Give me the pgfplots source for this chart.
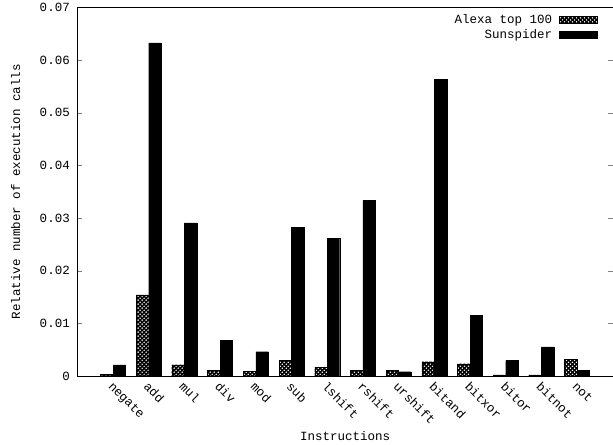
\documentclass[border=0pt]{standalone}
\usepackage{fontspec}
\setmainfont{Liberation Mono}
\usepackage{pgfplots}
\pgfplotsset{compat=1.18}
\usetikzlibrary{patterns}
\pgfdeclarepatternformonly{gpcross}{\pgfqpoint{-1pt}{-1pt}}{\pgfqpoint{5pt}{5pt}}{\pgfqpoint{4pt}{4pt}}{%
  \pgfsetlinewidth{1.3pt}%
  \pgfpathmoveto{\pgfqpoint{-1pt}{-1pt}}\pgfpathlineto{\pgfqpoint{5pt}{5pt}}%
  \pgfpathmoveto{\pgfqpoint{-1pt}{5pt}}\pgfpathlineto{\pgfqpoint{5pt}{-1pt}}%
  \pgfusepath{stroke}}
\pgfplotstableread{
x alexa sun
0  0.00025 0.0021
1  0.0154  0.0633
2  0.0021  0.0291
3  0.0011  0.0067
4  0.0009  0.0046
5  0.0030  0.0283
6  0.0016  0.0261
7  0.0011  0.0333
8  0.0010  0.0008
9  0.0027  0.0563
10 0.0023  0.0115
11 0.0002  0.0029
12 0.0002  0.0055
13 0.0032  0.0011
}\datatable
\begin{document}
\begin{tikzpicture}
\begin{axis}[
  scale only axis, width=535pt, height=368pt,
  xmin=-1, xmax=14, ymin=0, ymax=0.07,
  scaled y ticks=false,
  ybar=0pt, bar width=12.5pt,
  xtick={0,...,13},
  xticklabels={negate,add,mul,div,mod,sub,lshift,rshift,urshift,bitand,bitxor,bitor,bitnot,not},
  x tick style={draw=none},
  xticklabel style={rotate=-45, anchor=north west, inner sep=1pt, xshift=3pt, yshift=-2pt},
  ytick={0,0.01,0.02,0.03,0.04,0.05,0.06,0.07},
  yticklabels={0,0.01,0.02,0.03,0.04,0.05,0.06,0.07},
  yticklabel style={xshift=-4pt},
  ytick pos=both, tick align=inside, major tick length=5pt,
  /pgf/number format/assume math mode=true,
  tick label style={font=\fontsize{12.5}{15}\selectfont},
  label style={font=\fontsize{12.5}{15}\selectfont},
  xlabel={Instructions}, ylabel={Relative number of execution calls},
  ylabel style={inner sep=11pt}, ylabel shift=5pt, xlabel shift=2pt,
  legend plot pos=right, legend cell align=right,
  legend style={at={(1,1)}, anchor=north east, xshift=-12pt, yshift=-3pt, draw=none, fill=none,
    font=\fontsize{12.5}{15}\selectfont, row sep=0pt, column sep=5pt},
  mylegend/.style={legend image code/.code={\draw[##1, line width=0.4pt] (0pt,-3.5pt) rectangle (38pt,3.5pt);}},
]
\addplot[draw=black, line width=0.4pt, pattern=gpcross, mylegend] table[x=x, y=alexa] {\datatable};
\addlegendentry{Alexa top 100}
\addplot[draw=black, fill=black, line width=0.4pt, mylegend] table[x=x, y=sun] {\datatable};
\addlegendentry{Sunspider}
\end{axis}
\end{tikzpicture}
\end{document}
